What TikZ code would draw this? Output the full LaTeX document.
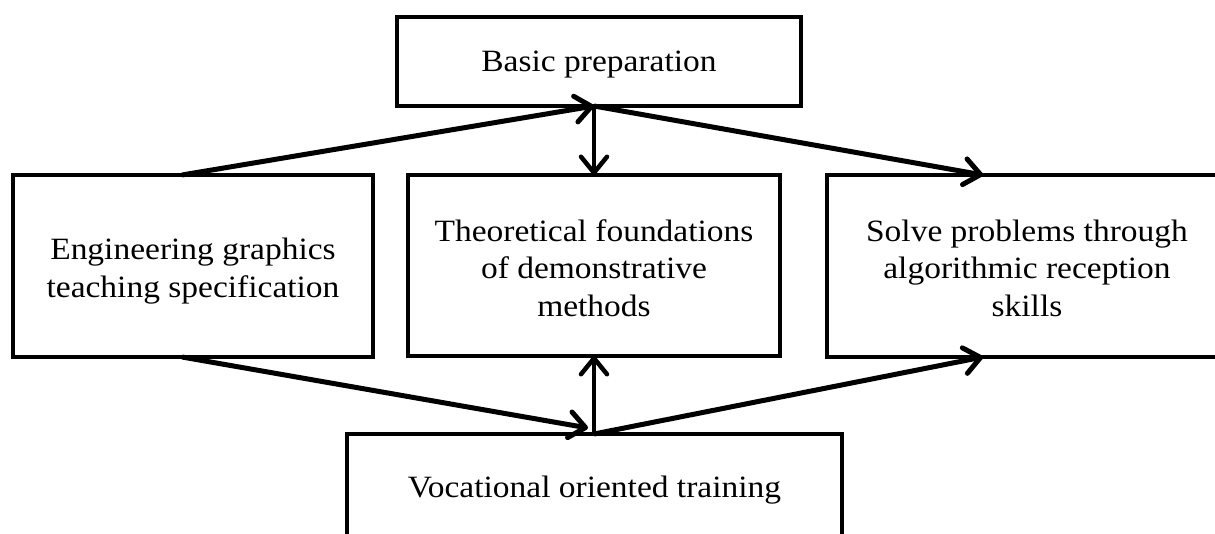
\documentclass[tikz,border=0pt]{standalone}
\usepackage{fontspec}
\setmainfont{Liberation Serif}[FakeStretch=1.08]
\usetikzlibrary{arrows.meta}
\begin{document}
\begin{tikzpicture}[x=1pt,y=-1pt,
  box/.style={draw, line width=4pt, inner sep=0pt, outer sep=0pt},
  txt/.style={align=center, font=\fontsize{31}{37.5}\selectfont, inner sep=0pt},
  arr/.style={line width=5pt, -{Straight Barb[round,length=16pt,width=26pt]}}]
\path[use as bounding box, clip] (0,0) rectangle (1215,534);
\node[box, minimum width=404pt, minimum height=89pt] (top) at (599,61.5) {};
\node[box, minimum width=360pt, minimum height=182pt] (left) at (193,266) {};
\node[box, minimum width=372pt, minimum height=181pt] (mid) at (594,265.5) {};
\node[box, minimum width=400pt, minimum height=182pt] (right) at (1027,266) {};
\node[box, minimum width=495pt, minimum height=106pt] (bot) at (594.5,487) {};
\node[txt] (topt) at (599,65) {Basic preparation};
\node[txt] (leftt) at (193,271) {Engineering graphics\\teaching specification};
\node[txt] (midt) at (594,268) {Theoretical foundations\\of demonstrative\\methods};
\node[txt] (rightt) at (1027,268) {Solve problems through\\algorithmic reception\\skills};
\node[txt] (bott) at (594.5,490) {Vocational oriented training};
\coordinate (tj) at (top.south -| mid.north);
\coordinate (bj) at (bot.north -| mid.south);
\coordinate (ls) at ([xshift=-11pt]left.north);
\coordinate (lb) at ([xshift=-11pt]left.south);
\coordinate (rt) at ([xshift=-44pt]right.north);
\coordinate (rb) at ([xshift=-44pt]right.south);
\coordinate (bl) at ([xshift=-6pt,yshift=6pt]bj);
\draw[arr] (ls) -- (tj);
\draw[arr, line width=4.5pt] (tj) -- (mid.north);
\draw[arr] (tj) -- (rt);
\draw[arr] (lb) -- (bl);
\draw[arr, line width=4.5pt] (bj) -- (mid.south);
\draw[arr] (bj) -- (rb);
\end{tikzpicture}
\end{document}
